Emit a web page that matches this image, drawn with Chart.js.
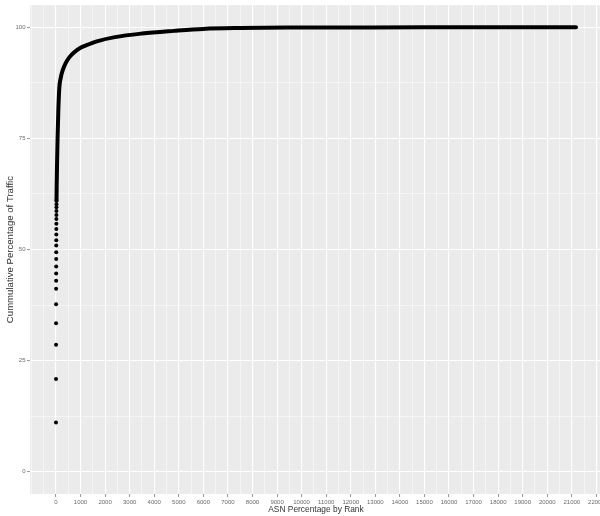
<!DOCTYPE html>
<html>
<head>
<meta charset="utf-8">
<script src="https://cdn.jsdelivr.net/npm/chart.js@4/dist/chart.umd.min.js"></script>
<style>
  html, body { margin: 0; padding: 0; background: #fff; }
  #wrap { width: 600px; height: 516px; overflow: hidden; position: relative; }
  canvas { display: block; }
</style>
</head>
<body>
<div id="wrap"><canvas id="c" width="620" height="516"></canvas></div>
<script>
// ---- data ----
// first ranks, drawn as separate dots
const dotRanks  = [1, 2, 3, 4, 5, 6, 7, 8, 9, 10, 11, 12, 13, 14, 15, 16, 17, 18, 19, 20, 21, 22];
const dotValues = [11.1, 20.9, 28.6, 33.4, 37.7, 41.2, 43.0, 44.6, 46.2, 47.9, 49.4, 50.9, 52.1, 53.4, 54.6, 55.8, 56.9, 57.8, 58.7, 59.5, 60.2, 61.0];
// remaining ranks, where the dots merge into a solid curve
const curveRanks  = [22, 30, 45, 65, 95, 135, 200, 272, 400, 550, 744, 1000, 1300, 1700, 2400, 3500, 4800, 6000, 7500, 9500, 12000, 15000, 18000, 21170];
const curveValues = [61.0, 64.5, 69.5, 75.0, 81.0, 86.3, 88.8, 90.3, 92.0, 93.3, 94.4, 95.4, 96.1, 96.9, 97.8, 98.6, 99.2, 99.65, 99.85, 99.95, 99.98, 100, 100, 100];
// axis ticks
const xTickValues = [0, 1000, 2000, 3000, 4000, 5000, 6000, 7000, 8000, 9000, 10000, 11000, 12000, 13000, 14000, 15000, 16000, 17000, 18000, 19000, 20000, 21000, 22000];
const xTickLabels = ['0', '1000', '2000', '3000', '4000', '5000', '6000', '7000', '8000', '9000', '10000', '11000', '12000', '13000', '14000', '15000', '16000', '17000', '18000', '19000', '20000', '21000', '22000'];
const yTickValues = [0, 25, 50, 75, 100];
const yTickLabels = ['0', '25', '50', '75', '100'];
const xTitle = 'ASN Percentage by Rank';
const yTitle = 'Cummulative Percentage of Traffic';

// ---- build tick lists (major + minor) ----
function withMinor(major, lo, hi) {
  const out = [];
  const step = major[1] - major[0];
  const first = major[0] - step;
  for (let i = 0; i <= major.length + 1; i++) {
    const m = first + i * step;
    if (m >= lo && m <= hi) out.push({ value: m, major: major.includes(m) });
    const h = m + step / 2;
    if (h >= lo && h <= hi) out.push({ value: h, major: false });
  }
  return out;
}
const X_MIN = -1057, X_MAX = 22228;
const Y_MIN = -5, Y_MAX = 105;

const panelBg = {
  id: 'panelBg',
  beforeDraw(chart) {
    const { ctx, chartArea: a } = chart;
    ctx.save();
    ctx.fillStyle = '#ffffff';
    ctx.fillRect(0, 0, chart.width, chart.height);
    ctx.fillStyle = '#EBEBEB';
    ctx.fillRect(a.left, a.top, a.right - a.left, a.bottom - a.top);
    ctx.restore();
  }
};

const font = "'Liberation Sans', Arial, Helvetica, sans-serif";
const isMajorX = v => xTickValues.includes(v);
const isMajorY = v => yTickValues.includes(v);

new Chart(document.getElementById('c'), {
  type: 'scatter',
  data: {
    datasets: [
      {
        data: curveRanks.map((r, i) => ({ x: r, y: curveValues[i] })),
        showLine: true,
        borderColor: '#000',
        borderWidth: 4,
        borderCapStyle: 'round',
        borderJoinStyle: 'round',
        cubicInterpolationMode: 'monotone',
        pointRadius: 0,
        pointHoverRadius: 0
      },
      {
        data: dotRanks.map((r, i) => ({ x: r, y: dotValues[i] })),
        backgroundColor: '#000',
        borderWidth: 0,
        pointRadius: 2,
        pointHoverRadius: 2
      }
    ]
  },
  plugins: [panelBg],
  options: {
    responsive: false,
    animation: false,
    devicePixelRatio: 1,
    layout: { padding: { top: 5, right: 18, left: 0, bottom: 0 } },
    plugins: { legend: { display: false }, tooltip: { enabled: false }, title: { display: false } },
    scales: {
      x: {
        type: 'linear',
        min: X_MIN,
        max: X_MAX,
        afterBuildTicks: s => { s.ticks = withMinor(xTickValues, X_MIN, X_MAX); },
        afterFit: s => { s.height = 22; },
        border: { display: false },
        grid: {
          color: '#ffffff',
          lineWidth: c => (c.tick && isMajorX(c.tick.value)) ? 1.1 : 0.5,
          drawTicks: true,
          tickLength: 3,
          tickWidth: 0.8,
          tickColor: c => (c.tick && isMajorX(c.tick.value)) ? '#7a7a7a' : 'rgba(0,0,0,0)'
        },
        ticks: {
          autoSkip: false,
          maxRotation: 0,
          padding: 1.5,
          color: '#6a6a6a',
          font: { family: font, size: 6 },
          callback: v => { const i = xTickValues.indexOf(v); return i >= 0 ? xTickLabels[i] : ''; }
        },
        title: {
          display: true,
          text: xTitle,
          color: '#333',
          font: { family: font, size: 8.4 },
          padding: { top: 0, bottom: 0.8 }
        }
      },
      y: {
        type: 'linear',
        min: Y_MIN,
        max: Y_MAX,
        afterBuildTicks: s => { s.ticks = withMinor(yTickValues, Y_MIN, Y_MAX); },
        afterFit: s => { s.width = 30; },
        border: { display: false },
        grid: {
          color: '#ffffff',
          lineWidth: c => (c.tick && isMajorY(c.tick.value)) ? 1.1 : 0.5,
          drawTicks: true,
          tickLength: 3,
          tickWidth: 0.8,
          tickColor: c => (c.tick && isMajorY(c.tick.value)) ? '#7a7a7a' : 'rgba(0,0,0,0)'
        },
        ticks: {
          autoSkip: false,
          padding: 1.5,
          color: '#6a6a6a',
          font: { family: font, size: 6 },
          callback: v => { const i = yTickValues.indexOf(v); return i >= 0 ? yTickLabels[i] : ''; }
        },
        title: {
          display: true,
          text: yTitle,
          color: '#333',
          font: { family: font, size: 9.6 },
          padding: { top: 4.2, bottom: 0 }
        }
      }
    }
  }
});
</script>
</body>
</html>
